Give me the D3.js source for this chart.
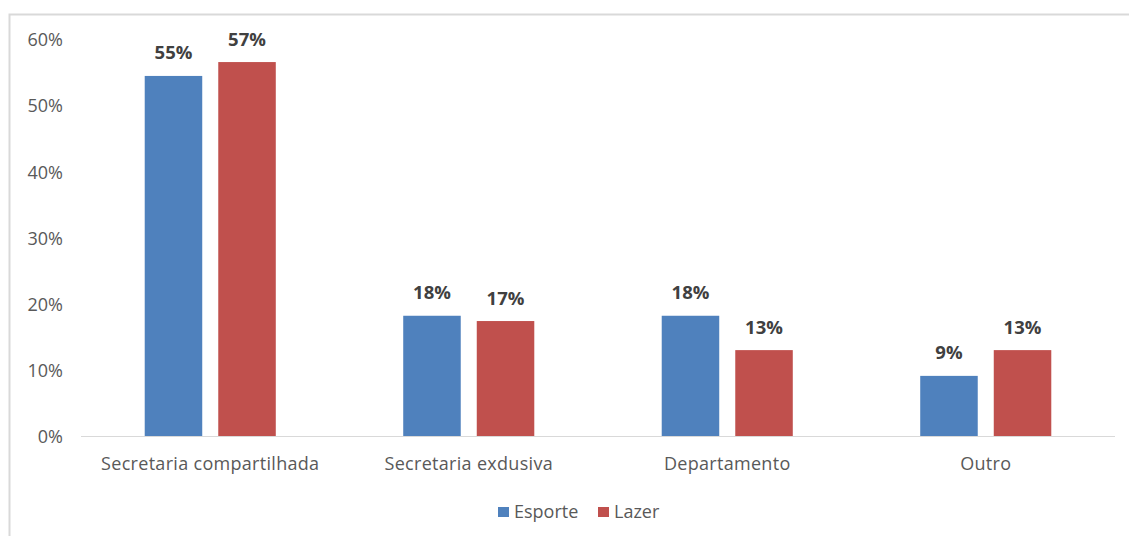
<!DOCTYPE html>
<html>
<head>
<meta charset="utf-8">
<script src="https://cdn.jsdelivr.net/npm/d3@7"></script>
<style>
  html, body { margin: 0; padding: 0; background: #fff; }
  svg { display: block; }
  text { font-family: "Open Sans", Lato, sans-serif; }
</style>
</head>
<body>
<svg id="chart" width="1129" height="536"></svg>
<script>
// Chart data
const categories = ["Secretaria compartilhada", "Secretaria exdusiva", "Departamento", "Outro"];
const seriesNames = ["Esporte", "Lazer"];
const esporte = [54.5, 18.2, 18.2, 9.1];
const lazer = [56.6, 17.4, 13.0, 13.0];
const yTicks = [0, 10, 20, 30, 40, 50, 60];
const colors = ["#4F81BD", "#C0504D"];

const series = [esporte, lazer];

const svg = d3.select("#chart");
const W = 1129, H = 536;
const FONT = "'Open Sans', Lato, sans-serif";

// Outer chart frame
svg.append("rect")
  .attr("x", 9.5).attr("y", 14.5)
  .attr("width", W + 10).attr("height", H + 10)
  .attr("fill", "#fff")
  .attr("stroke", "#d9d9d9")
  .attr("stroke-width", 2);

const plot = { left: 81, right: 1115, top: 39.6, bottom: 436 };

const x0 = d3.scaleBand()
  .domain(categories)
  .range([plot.left, plot.right])
  .paddingInner(0)
  .paddingOuter(0);

const bw = x0.bandwidth();
const barW = bw * 0.2225;
const gap = bw * 0.062;

const y = d3.scaleLinear().domain([0, 60]).range([plot.bottom, plot.top]);

// Y axis labels
const yAxis = d3.axisLeft(y)
  .tickValues(yTicks)
  .tickSize(0)
  .tickPadding(0)
  .tickFormat(d => d + "%");
const yg = svg.append("g").attr("transform", `translate(${63},0)`).call(yAxis);
yg.select(".domain").remove();
yg.selectAll("text")
  .attr("fill", "#595959")
  .style("font-size", "18px")
  .style("font-family", FONT)
  .attr("dy", "0.35em");

// Bars with value labels
const groups = svg.append("g");
categories.forEach((cat, i) => {
  const cx = x0(cat) + bw / 2;
  series.forEach((vals, s) => {
    const v = vals[i];
    const bx = s === 0 ? cx - gap / 2 - barW : cx + gap / 2;
    groups.append("rect")
      .attr("x", bx)
      .attr("y", y(v))
      .attr("width", barW)
      .attr("height", y(0) - y(v))
      .attr("fill", colors[s]);
    groups.append("text")
      .attr("x", bx + barW / 2)
      .attr("y", y(v) - 16.5)
      .attr("text-anchor", "middle")
      .attr("fill", "#404040")
      .style("font-size", "18.5px")
      .style("font-weight", "bold")
      .text(Math.round(v) + "%");
  });
});

// Baseline
svg.append("line")
  .attr("x1", plot.left).attr("x2", plot.right)
  .attr("y1", plot.bottom + 0.5).attr("y2", plot.bottom + 0.5)
  .attr("stroke", "#d9d9d9").attr("stroke-width", 1);

// Category axis
const xAxis = d3.axisBottom(x0).tickSize(0).tickPadding(0);
const xg = svg.append("g").attr("transform", `translate(0,${plot.bottom})`).call(xAxis);
xg.select(".domain").remove();
xg.selectAll("text")
  .attr("y", 28)
  .attr("dy", "0.35em")
  .attr("fill", "#595959")
  .style("font-size", "18px")
  .style("letter-spacing", "0.3px")
  .style("font-family", FONT);

// Legend
const legend = svg.append("g");
const legendItems = [
  { name: seriesNames[0], color: colors[0], x: 498 },
  { name: seriesNames[1], color: colors[1], x: 598 }
];
legendItems.forEach(it => {
  legend.append("rect")
    .attr("x", it.x).attr("y", 507)
    .attr("width", 11).attr("height", 10)
    .attr("fill", it.color);
  legend.append("text")
    .attr("x", it.x + 16).attr("y", 512)
    .attr("dy", "0.35em")
    .attr("fill", "#595959")
    .style("font-size", "18px")
    .text(it.name);
});
</script>
</body>
</html>
